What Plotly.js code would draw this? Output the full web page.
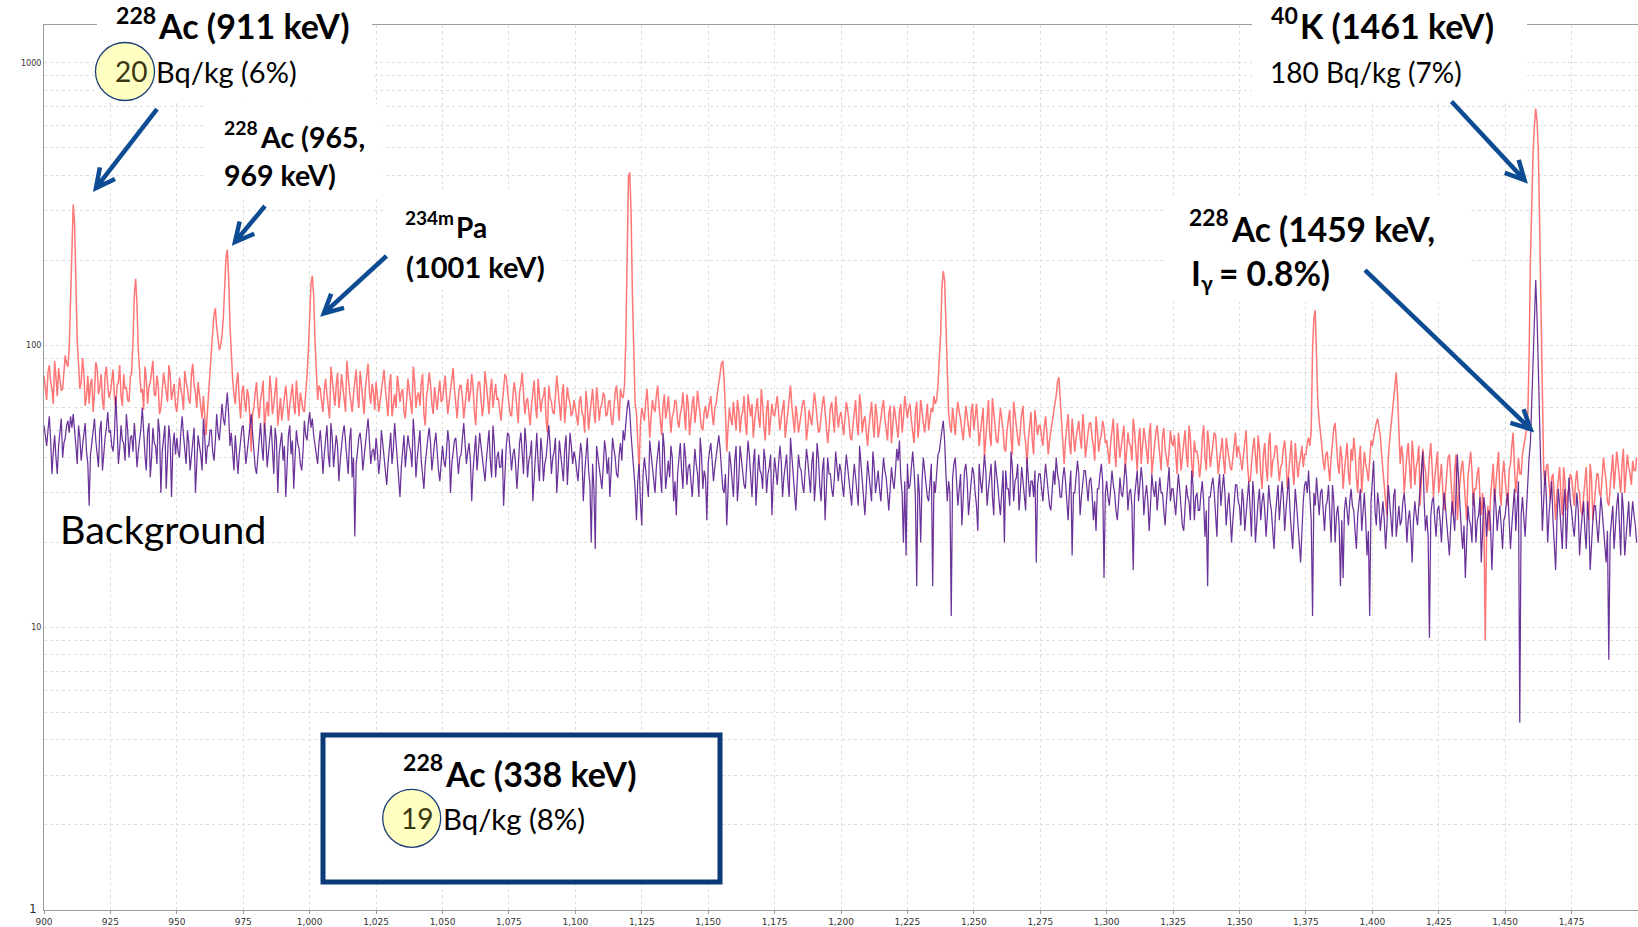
<!DOCTYPE html>
<html>
<head>
<meta charset="utf-8">
<script src="https://cdn.plot.ly/plotly-3.0.1.min.js"></script>
<style>
  html, body { margin: 0; padding: 0; background: #ffffff; }
  #chart { width: 1638px; height: 927px; }
</style>
</head>
<body>
<div id="chart"></div>
<script>
// Gamma-ray spectrum 900–1499.5 keV, 0.5 keV channels (counts per channel)
const energyStart = 900;   // keV, first channel
const channelWidth = 0.5;  // keV per channel

// Soil sample (one row = 25 keV)
const sampleCounts = [
  78,71,64,80,85,74,70,62,88,77,66,83,75,69,70,81,92,86,84,98,140,235,315,270,165,104,86,70,74,90,80,61,66,78,62,73,76,58,68,87,83,67,71,79,64,59,79,84,72,65,
  68,75,82,66,60,72,74,85,66,61,79,70,71,64,63,77,80,105,150,172,140,96,78,68,70,59,84,76,62,71,74,82,88,67,66,78,72,57,60,69,80,74,69,63,85,79,64,70,73,61,
  58,66,77,70,66,59,81,74,70,64,62,79,86,72,68,60,74,67,60,55,66,54,48,58,70,82,94,112,128,135,116,102,96,100,108,125,165,205,218,175,118,88,76,67,62,74,80,64,55,68,
  72,63,58,70,66,55,42,57,60,68,74,61,55,64,68,75,50,58,63,56,78,69,57,62,70,77,52,60,65,54,59,67,72,63,54,61,66,73,61,57,75,64,56,68,64,59,58,66,78,96,
  130,165,176,150,105,78,64,72,70,63,58,69,76,67,62,55,84,74,67,61,72,80,60,66,79,70,65,58,88,76,69,63,58,67,74,82,66,60,81,71,63,57,71,78,86,68,62,73,68,59,
  74,66,58,63,69,77,82,70,61,56,72,79,56,62,67,60,78,71,63,68,70,58,55,64,76,69,64,57,84,75,60,66,68,61,73,79,57,52,66,71,80,73,62,57,71,64,59,68,75,63,
  64,71,78,66,57,63,69,75,83,70,60,55,66,72,72,65,55,61,70,76,63,68,79,71,58,52,67,74,74,66,56,62,81,73,62,57,69,76,60,66,73,64,65,59,54,62,71,79,77,68,
  62,57,56,66,74,68,59,53,68,72,80,70,57,63,65,58,52,61,70,75,61,55,76,68,58,64,66,71,54,49,72,65,63,58,57,66,78,70,60,54,67,73,53,60,71,65,62,56,58,64,
  60,55,52,63,66,58,56,49,69,61,50,57,63,70,58,53,71,64,54,60,62,68,66,56,57,63,64,55,52,61,68,72,60,54,70,66,65,72,105,230,395,409,290,150,85,62,58,44,36,52,
  60,57,54,63,70,58,47,55,64,60,58,66,72,61,52,48,61,67,55,59,66,58,49,56,58,64,63,54,51,57,60,68,56,50,67,62,48,55,62,66,53,59,69,62,57,51,50,58,61,55,
  58,63,66,57,52,60,62,68,74,82,86,88,76,58,42,51,60,55,52,63,57,50,64,59,49,56,58,66,53,48,67,60,56,62,47,54,61,65,55,51,70,62,51,46,59,64,48,55,62,57,
  56,61,66,58,50,55,60,64,47,53,58,63,72,61,53,49,61,56,49,54,57,62,64,58,46,51,59,55,52,60,68,62,55,49,50,57,62,66,57,52,45,51,60,63,54,49,66,59,51,56,
  58,53,48,55,63,59,54,47,46,52,60,64,52,48,67,61,49,54,56,50,44,51,59,63,53,47,62,57,47,52,55,60,64,55,50,46,57,61,45,52,61,56,52,47,58,62,49,55,66,59,
  55,60,62,54,50,45,58,63,47,53,64,57,53,49,57,62,50,55,60,58,66,62,64,72,85,110,160,183,170,120,80,58,52,49,60,54,48,57,63,58,55,50,46,53,61,56,52,47,58,62,
  50,56,62,53,44,49,56,60,40,47,58,64,48,44,65,58,52,46,45,53,60,55,50,43,42,50,55,59,47,41,63,56,51,47,44,52,57,61,49,45,38,46,54,58,46,41,59,53,48,52,
  52,47,44,51,56,49,41,46,50,55,58,62,66,74,77,64,50,43,38,46,52,57,45,41,55,49,42,47,50,54,47,43,57,51,40,46,49,53,53,47,44,39,56,50,42,46,48,54,51,45,
  46,42,38,45,50,55,42,37,53,47,40,44,47,52,36,41,49,45,44,39,55,50,41,36,46,51,38,43,51,47,43,38,48,53,35,40,45,49,52,46,40,36,47,51,43,39,37,42,50,45,
  44,48,39,35,49,44,36,41,45,50,41,37,52,47,38,34,46,42,42,39,34,38,47,52,40,36,50,45,37,41,44,49,48,42,35,39,43,47,39,35,47,43,41,37,36,40,45,49,40,44,
  42,38,36,41,46,50,38,33,33,39,43,47,39,35,48,43,35,31,41,45,37,33,45,49,34,39,40,44,44,38,33,37,38,43,46,40,31,35,42,46,36,32,45,40,34,38,40,44,37,41,
  41,45,47,44,50,96,125,133,95,62,54,47,44,39,36,41,42,37,33,40,46,51,53,44,38,35,44,40,31,36,40,45,35,32,43,39,47,42,34,30,39,44,30,35,42,38,36,33,41,46,
  44,48,50,53,55,51,48,41,36,30,28,25,40,46,52,56,62,74,80,66,45,38,44,40,30,36,41,45,35,31,46,40,32,37,39,44,27,33,43,38,36,30,33,40,45,37,29,34,38,42,
  30,34,38,31,26,30,35,40,41,33,29,25,36,41,24,29,33,37,39,32,28,24,34,38,42,36,27,31,31,35,37,29,25,30,24,9,21,27,22,29,34,38,28,33,38,42,30,27,35,39,
  33,29,27,36,38,44,49,37,30,34,40,35,35,41,44,47,50,56,90,200,330,480,600,688,620,480,260,130,60,36,32,37,38,31,28,34,35,29,24,30,33,37,29,25,37,33,26,30,31,35,
  34,30,27,33,36,31,30,26,25,29,33,37,28,24,38,34,24,28,31,35,35,30,29,33,40,36,33,28,27,31,37,41,31,36,42,38,34,30,38,43,30,34,41,37,35,32,39,36,36,40
];

// Detector background (one row = 25 keV)
const backgroundCounts = [
  52,47,44,50,56,46,35,42,48,40,35,44,50,55,40,45,47,52,54,49,56,51,57,48,44,38,52,47,39,44,48,53,42,38,27,41,45,50,55,46,41,37,50,54,36,43,47,51,58,49,
  50,44,42,48,66,52,38,43,52,46,45,39,57,50,40,47,48,42,53,46,37,42,46,51,60,48,41,36,49,53,34,40,51,45,44,38,55,49,30,42,47,52,31,40,52,46,29,44,49,41,
  47,42,40,49,56,48,43,38,50,45,36,41,45,51,30,40,48,44,41,36,55,47,38,44,44,50,50,42,39,46,57,49,46,53,62,55,52,60,68,57,44,49,40,36,48,42,35,41,46,51,
  52,45,38,42,46,51,57,49,42,37,35,41,49,53,44,39,53,47,37,43,47,52,40,35,51,46,30,41,45,49,39,44,29,38,48,52,41,46,31,40,50,45,43,38,36,42,54,48,46,53,
  58,51,55,48,44,40,38,45,50,43,35,41,46,52,41,37,53,47,37,42,48,44,33,39,44,49,52,46,39,35,46,51,34,40,21,38,42,47,49,44,36,41,45,50,55,47,38,42,43,39,
  47,42,35,39,50,45,40,36,32,38,45,49,38,43,53,46,41,35,29,37,44,48,37,41,48,44,42,37,55,47,34,40,46,50,39,34,31,38,43,47,51,45,36,41,45,49,40,36,33,39,
  44,39,37,42,50,45,30,38,42,46,47,41,35,40,41,47,53,45,38,42,45,39,28,36,43,48,36,41,49,44,40,35,33,39,46,50,39,34,52,45,34,40,42,37,37,43,27,35,44,49,
  48,42,36,41,43,38,31,37,45,49,39,35,51,45,34,39,41,46,28,35,44,49,38,33,47,42,33,38,40,45,52,44,35,40,42,47,30,36,46,41,37,33,43,48,32,38,49,44,38,42,
  40,36,33,39,45,41,28,35,42,47,36,32,20,38,31,19,44,40,38,33,31,37,46,42,35,40,29,36,47,43,40,35,34,41,45,39,50,46,55,60,64,58,48,40,36,31,24,33,38,28,
  23,35,40,36,33,29,46,41,37,32,30,37,42,46,35,30,49,43,31,36,39,34,44,40,28,33,25,35,41,45,36,31,45,40,32,37,38,34,29,35,43,38,35,29,47,41,31,36,34,24,
  38,42,45,39,33,37,40,44,48,43,36,31,30,35,23,34,42,38,34,29,39,44,28,33,44,39,36,32,31,37,46,41,33,29,38,43,27,33,41,36,35,31,43,39,30,35,37,41,25,33,
  40,36,32,38,44,39,29,34,37,41,33,29,47,41,35,31,26,33,41,37,36,32,30,36,43,39,34,30,38,42,28,33,45,40,32,28,36,40,24,32,40,35,35,31,29,34,42,37,33,38,
  36,32,29,35,41,37,33,29,27,33,38,34,31,27,44,38,35,30,25,31,39,35,32,28,42,37,30,34,36,31,28,34,40,36,34,30,26,31,37,33,31,36,43,39,46,34,30,20,33,18,
  38,31,32,37,42,36,29,14,35,30,20,33,40,36,33,29,28,34,38,14,33,30,36,41,42,47,50,54,46,35,28,33,30,11,34,38,40,33,27,31,35,23,30,36,38,33,25,30,33,37,
  35,30,27,22,38,33,30,35,41,36,27,31,34,38,29,25,39,34,32,28,25,30,36,20,36,31,31,27,42,37,28,33,34,38,26,30,37,33,30,26,40,35,29,33,33,29,36,17,32,35,
  35,31,28,33,38,34,31,27,26,30,36,32,40,35,33,29,29,34,37,33,27,24,31,36,18,30,30,34,39,35,25,29,32,36,36,32,28,33,34,30,24,28,22,31,31,35,38,33,15,30,
  33,29,27,31,36,32,30,26,24,28,34,30,29,33,38,34,26,30,31,27,16,29,33,36,28,32,37,33,25,29,32,28,22,27,35,31,29,33,26,30,34,30,30,26,23,28,33,37,28,31,
  31,27,25,30,35,31,27,23,22,27,32,29,28,24,36,32,24,29,30,26,26,30,33,28,21,26,14,29,29,32,34,30,25,21,31,35,27,31,35,30,23,27,30,25,20,24,28,32,32,28,
  27,23,31,28,22,26,29,33,25,21,33,29,20,25,28,31,24,28,30,26,21,25,32,28,26,22,19,25,29,32,24,28,33,29,22,26,30,34,26,22,19,24,31,27,24,20,17,23,28,32,
  33,30,36,29,24,11,30,27,34,29,25,30,31,26,22,27,28,32,24,20,32,28,20,25,27,23,14,24,15,26,29,25,23,28,31,27,26,22,19,25,28,31,22,26,30,24,18,22,11,28,
  32,39,26,23,30,27,22,26,28,24,19,23,32,28,25,21,29,31,21,25,27,23,24,28,30,26,20,24,26,22,17,24,28,25,23,27,31,35,42,28,22,25,21,9.2,25,28,29,24,21,26,
  27,24,20,25,30,27,24,20,18,23,28,25,22,30,41,33,26,22,19,23,15,22,27,24,23,20,30,27,20,24,25,29,17,22,29,26,21,25,26,23,16,22,31,27,22,25,27,23,19,24,
  25,28,30,24,19,23,27,31,22,26,33,4.6,25,29,25,21,26,33,40,45,62,99,140,170,125,80,45,30,22,28,36,29,20,25,29,33,24,20,16,24,31,27,23,19,27,31,19,25,34,28,
  26,23,21,25,30,26,18,22,25,28,22,19,28,24,16,21,24,27,27,23,20,24,29,26,23,19,17,22,7.7,21,24,27,19,23,27,30,22,18,30,26,18,21,25,28,21,24,28,25,23,20
];

// Axis ticks
const xTickVals = [900,925,950,975,1000,1025,1050,1075,1100,1125,1150,1175,1200,
                   1225,1250,1275,1300,1325,1350,1375,1400,1425,1450,1475];
const xTickText = ['900','925','950','975','1,000','1,025','1,050','1,075','1,100','1,125',
                   '1,150','1,175','1,200','1,225','1,250','1,275','1,300','1,325','1,350',
                   '1,375','1,400','1,425','1,450','1,475'];
const yTickVals = [10, 100, 1000];
const yTickText = ['10', '100', '1000'];
const yOriginText = '1';
const yMinorVals = [2,3,4,5,6,7,8,9,20,30,40,50,60,70,80,90,
                    200,300,400,500,600,700,800,900];

// Plot area in page pixels (margins below match these)
const PLOT = { left: 44, top: 25, width: 1594, height: 885 };
const px = x => (x - PLOT.left) / PLOT.width;
const py = y => (PLOT.top + PLOT.height - y) / PLOT.height;

const NAVY = '#0d4b92';
const FONT = 'Lato, "Open Sans", sans-serif';

function arrowPath(x0, y0, x1, y1) {
  const len = 21, spread = 27 * Math.PI / 180;
  const a = Math.atan2(y1 - y0, x1 - x0);
  const P = (x, y) => px(x).toFixed(5) + ',' + py(y).toFixed(5);
  const b1 = P(x1 - len * Math.cos(a - spread), y1 - len * Math.sin(a - spread));
  const b2 = P(x1 - len * Math.cos(a + spread), y1 - len * Math.sin(a + spread));
  return 'M' + P(x0, y0) + 'L' + P(x1, y1) + 'M' + b1 + 'L' + P(x1, y1) + 'L' + b2;
}

function whiteBox(x0, y0, x1, y1) {
  return { type: 'rect', xref: 'paper', yref: 'paper', layer: 'above',
           x0: px(x0), x1: px(x1), y0: py(y1), y1: py(y0),
           fillcolor: '#ffffff', line: { width: 0 } };
}
function badge(cx, cy, rx, ry) {
  return { type: 'circle', xref: 'paper', yref: 'paper', layer: 'above',
           x0: px(cx - rx), x1: px(cx + rx), y0: py(cy + ry), y1: py(cy - ry),
           fillcolor: '#ffffc2', line: { color: '#1d3f78', width: 1.3 } };
}
function arrow(x0, y0, x1, y1) {
  return { type: 'path', xref: 'paper', yref: 'paper', layer: 'above',
           path: arrowPath(x0, y0, x1, y1), line: { color: NAVY, width: 4.5 } };
}
function label(text, x, y, size, anchor, bold, color) {
  return { text: bold ? '<b>' + text + '</b>' : text,
           xref: 'paper', yref: 'paper', x: px(x), y: py(y),
           xanchor: anchor, yanchor: 'middle', showarrow: false, borderpad: 0,
           font: { family: FONT, size: size, color: color || '#000000' } };
}
// bold nuclide label: mass number raised in front of the element text starting at x
function nuclide(mass, text, x, y, size) {
  return [
    label(mass, x, y - 0.33 * size, 0.68 * size, 'right', true),
    label(text, x, y, size, 'left', true)
  ];
}

const shapes = [
  whiteBox(97, 0, 372, 100),
  whiteBox(205, 104, 382, 198),
  whiteBox(384, 192, 562, 288),
  whiteBox(1252, 0, 1527, 100),
  whiteBox(1165, 197, 1468, 302),
  { type: 'rect', xref: 'paper', yref: 'paper', layer: 'above',
    x0: px(323), x1: px(720), y0: py(882), y1: py(735),
    fillcolor: '#ffffff', line: { color: '#0b3a78', width: 5 } },
  badge(125, 71.5, 29.5, 29),
  badge(411.7, 818.3, 29, 29),
  arrow(157, 109, 96, 188),
  arrow(265, 206, 235, 242),
  arrow(386.5, 256, 323.8, 313.4),
  arrow(1451.5, 101.5, 1524.5, 180),
  arrow(1365, 270, 1530.5, 429)
];

const annotations = [].concat(
  nuclide('228', 'Ac (911 keV)', 157, 26, 34),
  [label('20', 131, 71, 28, 'center', false, '#3b3913'),
   label('Bq/kg (6%)', 155, 71, 29, 'left', false)],
  nuclide('228', 'Ac (965,', 259, 137, 28.5),
  [label('969 keV)', 223, 175, 28.5, 'left', true)],
  nuclide('234m', 'Pa', 455, 227, 28),
  [label('(1001 keV)', 405, 266, 29, 'left', true)],
  nuclide('40', 'K (1461 keV)', 1298.5, 26, 34),
  [label('180 Bq/kg (7%)', 1269, 72, 28, 'left', false)],
  nuclide('228', 'Ac (1459 keV,', 1230, 229, 33.5),
  [label('I', 1190, 273, 33.5, 'left', true),
   label('γ', 1200, 282, 21, 'left', true),
   label('= 0.8%)', 1218, 273, 33.5, 'left', true),
   label('Background', 59, 528, 39.5, 'left', false)],
  nuclide('228', 'Ac (338 keV)', 444, 773, 34),
  [label('19', 417, 818, 28, 'center', false, '#3b3913'),
   label('Bq/kg (8%)', 442, 818, 29.3, 'left', false),
   label(yOriginText, 38, 909, 12, 'right', false, '#333333')]
);
annotations[annotations.length - 1].font.family = 'DejaVu Sans';

const gridStyle = { gridcolor: '#dedede', griddash: '3px,3px', gridwidth: 1 };

const traces = [
  { type: 'scatter', mode: 'lines', name: 'Sample',
    x0: energyStart, dx: channelWidth, y: sampleCounts,
    line: { color: '#ff6f6f', width: 1.5 }, opacity: 0.95, hoverinfo: 'skip' },
  { type: 'scatter', mode: 'lines', name: 'Background',
    x0: energyStart, dx: channelWidth, y: backgroundCounts,
    line: { color: '#5a1d8e', width: 1.25 }, opacity: 0.9, hoverinfo: 'skip' }
];

const layout = {
  width: 1638, height: 927, autosize: false,
  margin: { l: PLOT.left, r: 0, t: PLOT.top, b: 927 - PLOT.top - PLOT.height, pad: 0 },
  paper_bgcolor: '#ffffff', plot_bgcolor: '#ffffff',
  showlegend: false,
  xaxis: Object.assign({
    range: [900, 1500], tickmode: 'array', tickvals: xTickVals, ticktext: xTickText,
    showgrid: true, zeroline: false, showline: true, mirror: true,
    linecolor: '#9c9c9c', linewidth: 1, ticks: 'outside', ticklen: 3, tickcolor: '#9c9c9c',
    tickfont: { family: 'DejaVu Sans', size: 9, color: '#333333' }
  }, gridStyle),
  yaxis: Object.assign({
    type: 'log', range: [0, Math.log10(1361)], tickmode: 'array',
    tickvals: yTickVals, ticktext: yTickText,
    showgrid: true, zeroline: false, showline: true, mirror: true,
    linecolor: '#9c9c9c', linewidth: 1, ticks: '',
    tickfont: { family: 'DejaVu Sans', size: 8, color: '#333333' },
    minor: Object.assign({ tickmode: 'array', tickvals: yMinorVals, ticks: '', showgrid: true }, gridStyle)
  }, gridStyle),
  shapes: shapes,
  annotations: annotations
};

Plotly.newPlot('chart', traces, layout, { displayModeBar: false, staticPlot: true });
</script>
</body>
</html>
